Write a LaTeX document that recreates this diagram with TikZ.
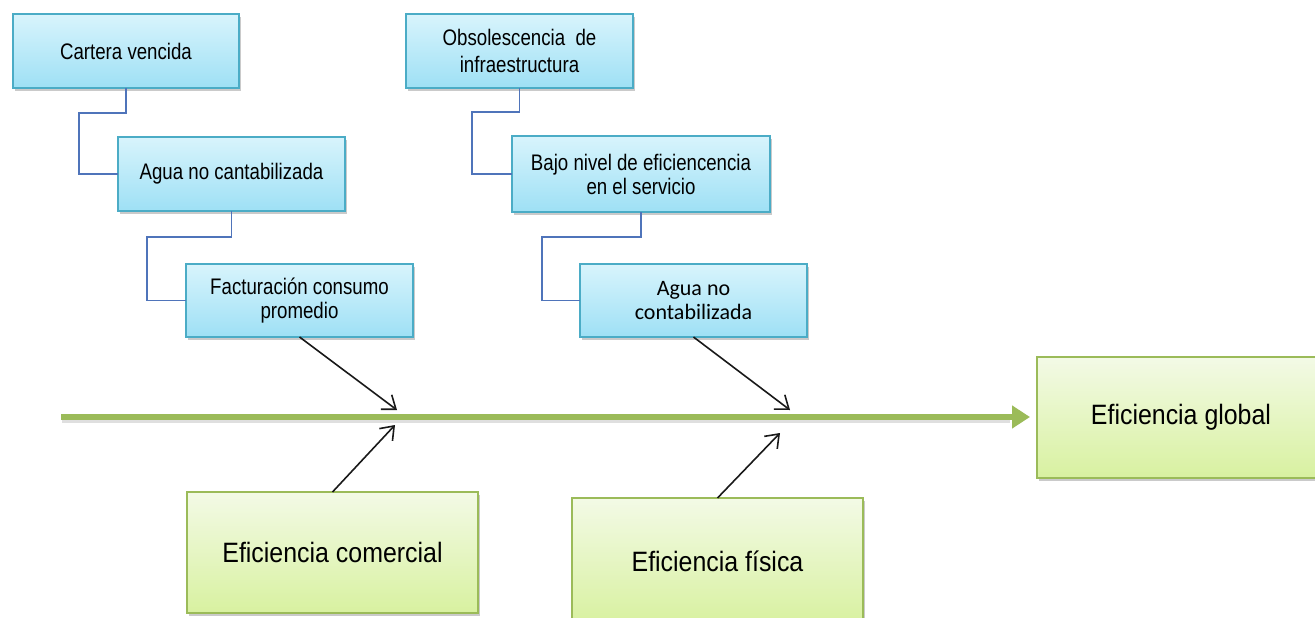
\documentclass[tikz,border=0pt]{standalone}
\usepackage{fontspec}
\setmainfont{Liberation Sans}[FakeStretch=0.89]
\newfontfamily\narrowfont{Liberation Sans}[FakeStretch=0.83]
\newfontfamily\calib{Carlito}
\usetikzlibrary{arrows.meta,shadows,calc}
\definecolor{bluetop}{HTML}{D8F4FC}
\definecolor{bluebot}{HTML}{9EE0F5}
\definecolor{blueedge}{HTML}{4BACC6}
\definecolor{elbowcol}{HTML}{4F74BA}
\definecolor{greentop}{HTML}{F3FAE6}
\definecolor{greenbot}{HTML}{D8F1A0}
\definecolor{greenedge}{HTML}{9BBB59}
\tikzset{
  bluebox/.style={draw=blueedge, line width=1.5pt, top color=bluetop, bottom color=bluebot,
    inner sep=0pt, outer sep=0pt, align=center, text=black,
    font=\narrowfont\fontsize{22.5}{24}\selectfont,
    drop shadow={opacity=0.35, shadow xshift=1.5pt, shadow yshift=-3pt, fill=black!60}},
  greenbox/.style={draw=greenedge, line width=1.5pt, top color=greentop, bottom color=greenbot,
    inner sep=0pt, outer sep=0pt, align=center, text=black,
    font=\fontsize{28}{32}\selectfont,
    drop shadow={opacity=0.35, shadow xshift=1.5pt, shadow yshift=-3pt, fill=black!60}},
  elbow/.style={draw=elbowcol, line width=1.6pt},
  cause/.style={draw=black!90, line width=1.6pt, -{Straight Barb[length=12pt,width=18pt,line width=1.6pt]}},
  mainline/.style={draw=greenedge, line width=6pt, -{Triangle[length=18pt,width=22pt]}},
}
\begin{document}
\begin{tikzpicture}[x=1pt,y=-1pt]
\useasboundingbox (0,0) rectangle (1315,618);
% blue boxes
\node[bluebox, minimum width=226pt, minimum height=74pt] (b1) at (126,51) {Cartera vencida};
\node[bluebox, minimum width=227pt, minimum height=74pt] (b2) at (231.5,174) {Agua no cantabilizada};
\node[bluebox, minimum width=227pt, minimum height=73pt] (b3) at (299.5,300.5) {Facturación consumo\\promedio};
\node[bluebox, minimum width=227pt, minimum height=74pt, font=\narrowfont\fontsize{22.5}{27}\selectfont] (b4) at (519.5,51) {Obsolescencia\ \ de\\infraestructura};
\node[bluebox, minimum width=258pt, minimum height=76pt] (b5) at (641,174) {Bajo nivel de eficiencencia\\en el servicio};
\node[bluebox, minimum width=227pt, minimum height=73pt, font=\calib\fontsize{22}{23.5}\selectfont] (b6) at (693.5,300.5) {Agua no\\contabilizada};
% green boxes
\node[greenbox, minimum width=291pt, minimum height=121pt] (com) at (332.5,552.5) {Eficiencia comercial};
\node[greenbox, minimum width=291pt, minimum height=126pt] (fis) at (717.5,561) {Eficiencia física};
\node[greenbox, minimum width=288pt, minimum height=121pt] (glob) at (1181,417.5) {Eficiencia global};
% elbow connectors
\draw[elbow] (b1.south) -- ++(0,25) -| ($(b2.west)+(-39,0)$) -- (b2.west);
\draw[elbow] (b2.south) -- ++(0,26) -| ($(b3.west)+(-39,0)$) -- (b3.west);
\draw[elbow] (b4.south) -- ++(0,24) -| ($(b5.west)+(-40,0)$) -- (b5.west);
\draw[elbow] (b5.south) -- ++(0,25) -| ($(b6.west)+(-38,0)$) -- (b6.west);
% main spine
\coordinate (spine) at (61,417);
\coordinate (tip) at (1030,417);
\draw[line width=5pt, draw=black!25, opacity=0.5] ($(spine)+(1,3)$) -- ($(tip)+(-20,3)$);
\draw[mainline] (spine) -- (tip);
% cause arrows
\coordinate (c1) at (397,410);
\coordinate (c2) at (395,425);
\coordinate (c3) at (790,410);
\coordinate (c4) at (780,433);
\draw[cause] (b3.south) -- (c1);
\draw[cause] (com.north) -- (c2);
\draw[cause] (b6.south) -- (c3);
\draw[cause] (fis.north) -- (c4);
\end{tikzpicture}
\end{document}
